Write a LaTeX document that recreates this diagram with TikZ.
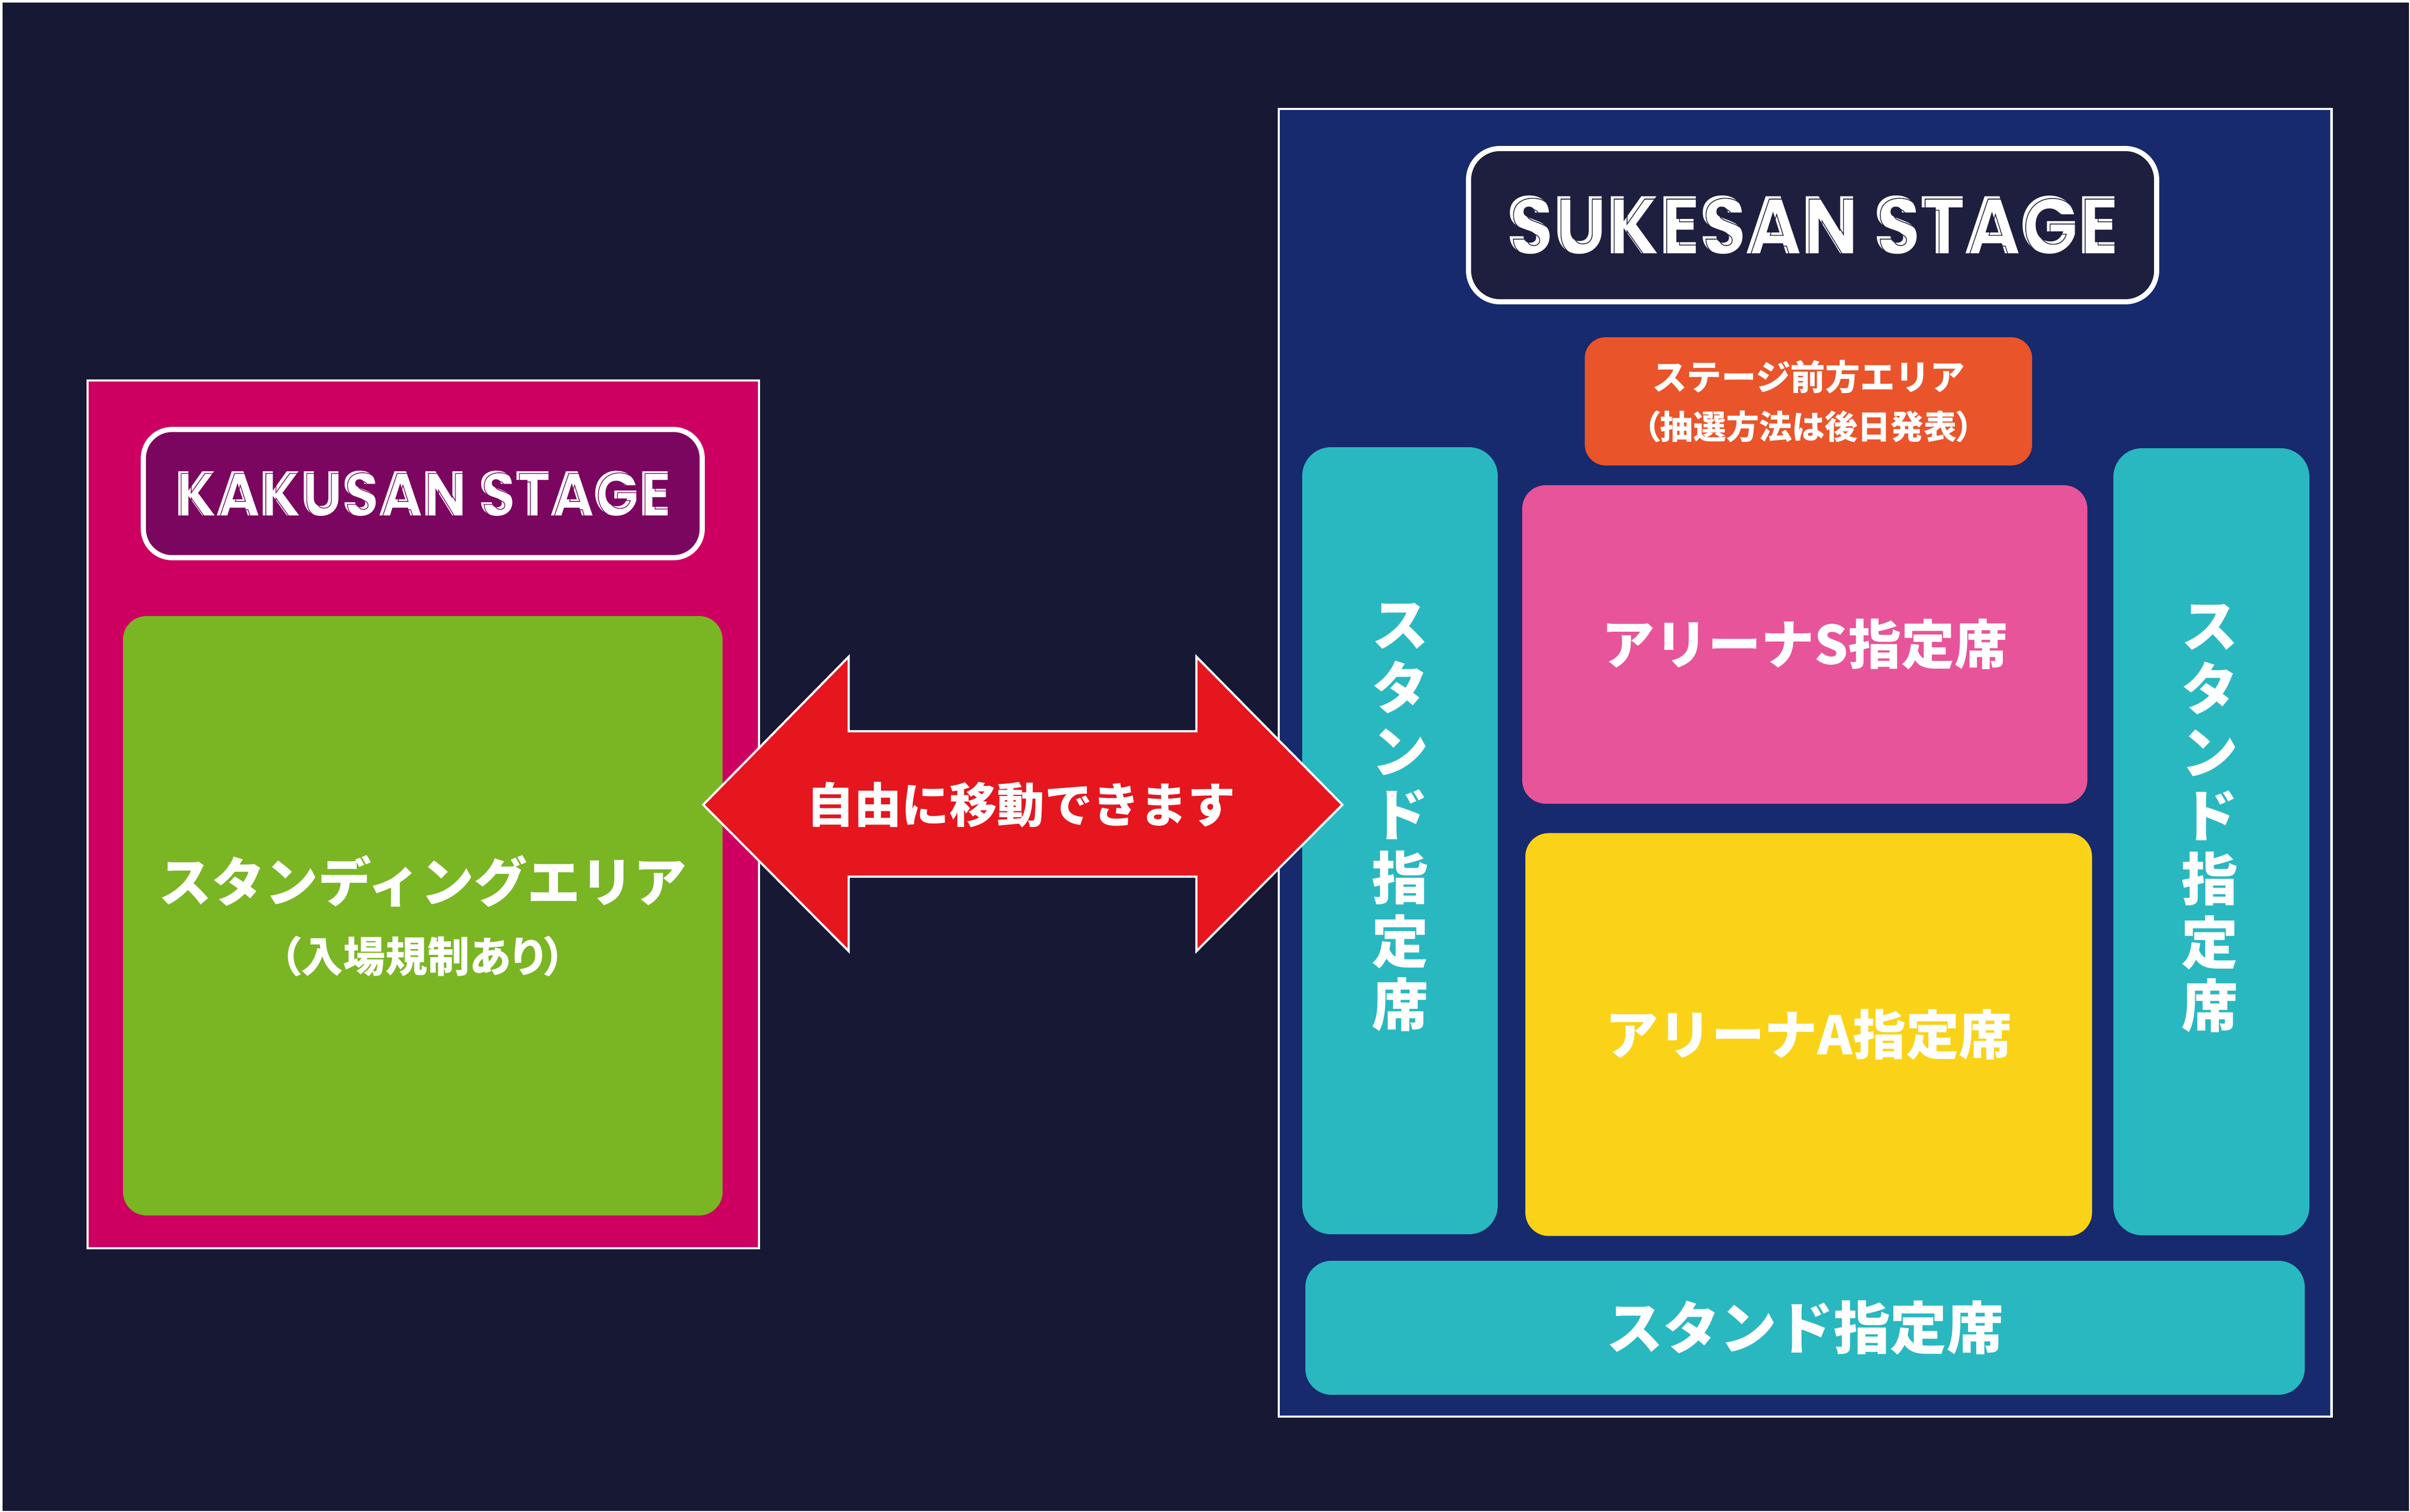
\documentclass[tikz,border=0pt]{standalone}
\usepackage{graphicx}
\usepackage{fontspec}
\newfontfamily\jpfont{Noto Sans CJK JP}
\newfontfamily\jppfont{Noto Sans CJK JP}[RawFeature=+palt]
\newfontfamily\stagefont{Poppins}
\newcommand\inlineon[1]{\special{pdf:literal direct 1 Tr #1 w}}
\newcommand\inlineoff{\special{pdf:literal direct 0 Tr}}
\usepackage{tikz}
\usetikzlibrary{calc}
\usetikzlibrary{positioning}

\definecolor{bg}{HTML}{161834}
\definecolor{kpink}{HTML}{CD0061}
\definecolor{kpurple}{HTML}{7B0660}
\definecolor{kgreen}{HTML}{7AB523}
\definecolor{ared}{HTML}{E5161E}
\definecolor{snavy}{HTML}{172A6D}
\definecolor{sdark}{HTML}{1E1F3F}
\definecolor{sorange}{HTML}{E9542A}
\definecolor{steal}{HTML}{29B8C0}
\definecolor{apink}{HTML}{E85499}
\definecolor{ayellow}{HTML}{FAD318}

\begin{document}
\begin{tikzpicture}[every node/.style={inner sep=0pt, text=white, align=center},
    area/.style={draw=white, line width=1.4pt},
    titlebox/.style={draw=white, line width=2.8pt, rounded corners=5.5mm},
    seat/.style={rounded corners=4.5mm},
    jp/.style={font=\jpfont\bfseries\fontsize{#1}{1.2\dimexpr#1\relax}\selectfont}]
        \useasboundingbox (0,0) rectangle (46.23,-29.01);
        \fill[white] (0,0) rectangle (46.23,-29.01);
        \fill[bg] (0.05,-0.05) rectangle (46.21,-28.99);

        \node[area, fill=kpink, minimum width=12.88cm, minimum height=16.65cm] (kakusan) at (8.12,-15.625) {};
        \node[titlebox, fill=kpurple, minimum width=10.72cm, minimum height=2.46cm] (ktitle) at (8.11,-9.47) {\resizebox{9.51cm}{0.86cm}{\stagefont\bfseries KAKUSAN STAGE}};
        \node[text=kpurple] (kinline) at ([xshift=0.5mm, yshift=-0.35mm]ktitle.center) {\resizebox{9.51cm}{0.86cm}{\stagefont\bfseries\inlineon{0.12}KAKUSAN STAGE\inlineoff}};
        \node[seat, fill=kgreen, minimum size=11.5cm, font=\jpfont\bfseries\fontsize{29pt}{38.4pt}\selectfont] (standing) at (8.11,-17.57) {スタンディングエリア\\{\jppfont\bfseries\fontsize{23pt}{38.4pt}\selectfont （入場規制あり）}};

        \node[area, fill=snavy, minimum width=20.19cm, minimum height=25.09cm] (sukesan) at (34.625,-14.635) {};
        \node[titlebox, fill=sdark, minimum width=13.20cm, minimum height=2.94cm, rounded corners=6mm] (stitle) at (34.77,-4.32) {\resizebox{11.72cm}{1.11cm}{\stagefont\bfseries SUKESAN STAGE}};
        \node[text=sdark] (sinline) at ([xshift=0.6mm, yshift=-0.45mm]stitle.center) {\resizebox{11.72cm}{1.11cm}{\stagefont\bfseries\inlineon{0.1}SUKESAN STAGE\inlineoff}};
        \node[seat, fill=sorange, minimum width=8.58cm, minimum height=2.46cm, rounded corners=4mm, font=\jpfont\bfseries\fontsize{19pt}{26.7pt}\selectfont] (front) at (34.69,-7.70) {ステージ前方エリア\\{\jppfont\bfseries\fontsize{18pt}{26.7pt}\selectfont （抽選方法は後日発表）}};

        \node[seat, fill=steal, minimum width=3.75cm, minimum height=15.10cm, rounded corners=5.5mm] (lstand) at (26.855,-16.13) {};
        \node[seat, fill=steal, minimum width=3.76cm, minimum height=15.10cm, rounded corners=5.5mm] (rstand) at (42.42,-16.15) {};
        \node[font=\jpfont\bfseries\fontsize{31pt}{34.6pt}\selectfont] (ltext) at ([yshift=4.5mm]lstand.center) {ス\\タ\\ン\\ド\\指\\定\\席};
        \node[font=\jpfont\bfseries\fontsize{31pt}{34.6pt}\selectfont] (rtext) at ([xshift=-0.3mm, yshift=4.5mm]rstand.center) {ス\\タ\\ン\\ド\\指\\定\\席};

        \node[seat, fill=apink, minimum width=10.84cm, minimum height=6.11cm, jp=29pt] (arenas) at (34.62,-12.365) {アリーナS指定席};
        \node[seat, fill=ayellow, minimum width=10.87cm, minimum height=7.73cm, jp=29pt, below=5.5mm of arenas, xshift=0.75mm] (arenaa) {アリーナA指定席};
        \node[seat, fill=steal, minimum width=19.17cm, minimum height=2.57cm, rounded corners=5mm, jp=31pt] (bstand) at (34.625,-25.475) {スタンド指定席};

        \coordinate (ltip) at (13.49,-15.44);
        \coordinate (rtip) at (25.75,-15.44);
        \draw[fill=ared, draw=white, line width=1.2pt, line join=miter]
            (ltip) -- (16.28,-12.60) -- (16.28,-14.03) -- (22.95,-14.03) -- (22.95,-12.60) -- (rtip)
            -- (22.95,-18.25) -- (22.95,-16.82) -- (16.28,-16.82) -- (16.28,-18.25) -- cycle;
        \node[jp=26pt] (move) at ($(ltip)!0.497!(rtip)$) {自由に移動できます};
    \end{tikzpicture}
\end{document}
